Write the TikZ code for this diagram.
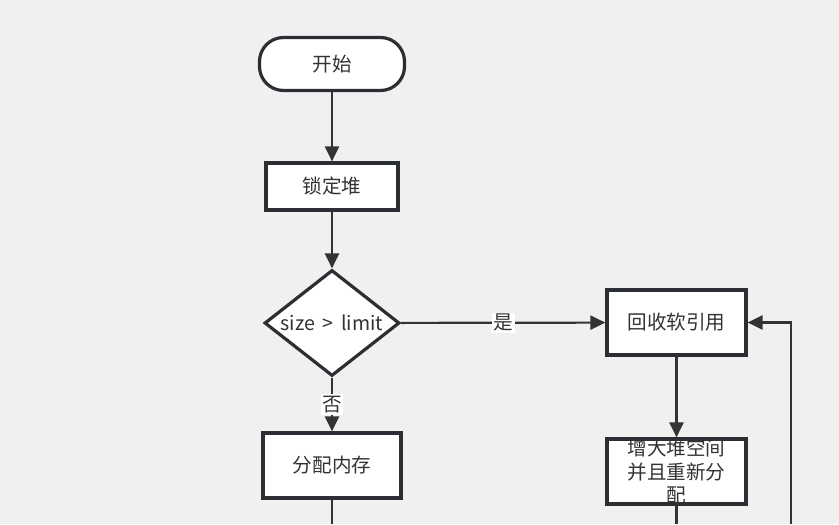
\documentclass[tikz,border=0pt]{standalone}
\usepackage{fontspec}
\setmainfont{Noto Sans CJK SC}
\usetikzlibrary{shapes.geometric,arrows.meta}
\definecolor{bggray}{HTML}{F0F0F0}
\definecolor{edgegray}{HTML}{2B2F33}
\definecolor{linegray}{HTML}{333333}
\tikzset{
  line/.style={draw=linegray, line width=1.1pt},
  arr/.style={line, -{Triangle[length=7.5pt,width=7pt]}},
  box/.style={draw=edgegray, fill=white, line width=1.6pt, rectangle, inner sep=0pt},
  term/.style={box, rounded corners=12pt},
  decision/.style={box, diamond, inner sep=0pt},
  lab/.style={fill=white, inner sep=0.8pt}
}
\begin{document}
\begin{tikzpicture}[x=0.5pt,y=-0.5pt, font=\fontsize{9.8}{11.75}\selectfont, text=linegray]
\useasboundingbox[fill=bggray] (0,0) rectangle (839,524);

% boxes
\node[term, minimum width=72.5pt, minimum height=26.5pt] (start) at (332,64) {开始};
\node[box, minimum width=66pt, minimum height=23.5pt] (lock) at (332,186.5) {锁定堆};
\node[decision, minimum width=67.5pt, minimum height=53pt] (check) at (332,323) {};
\node (checktext) at (check) {size \,>\, limit};
\node[box, minimum width=69pt, minimum height=32.5pt] (alloc) at (332,465.5) {分配内存};
\node[box, minimum width=69.5pt, minimum height=32.5pt] (reclaim) at (676.5,322.5) {回收软引用};
\node[box, minimum width=69.5pt, minimum height=32.5pt] (grow) at (676.5,471.5) {};
\node[align=center] (growtext) at (grow) {增大堆空间\\并且重新分\\配};

% loose ends at the bottom
\coordinate (allocout) at (332,524);
\coordinate (growout) at (676.5,524);
\coordinate (loopin) at (791,524);

% connectors
\draw[arr] (start) -- (lock);
\draw[arr] (lock) -- (check);
\draw[arr] (check) -- node[lab]{是} (reclaim);
\draw[arr] (check) -- node[lab]{否} (alloc);
\draw[arr] (reclaim) -- (grow);
\draw[line] (grow) -- (growout);
\draw[line] (alloc) -- (allocout);
\draw[arr] (loopin) |- (reclaim);
\end{tikzpicture}
\end{document}
